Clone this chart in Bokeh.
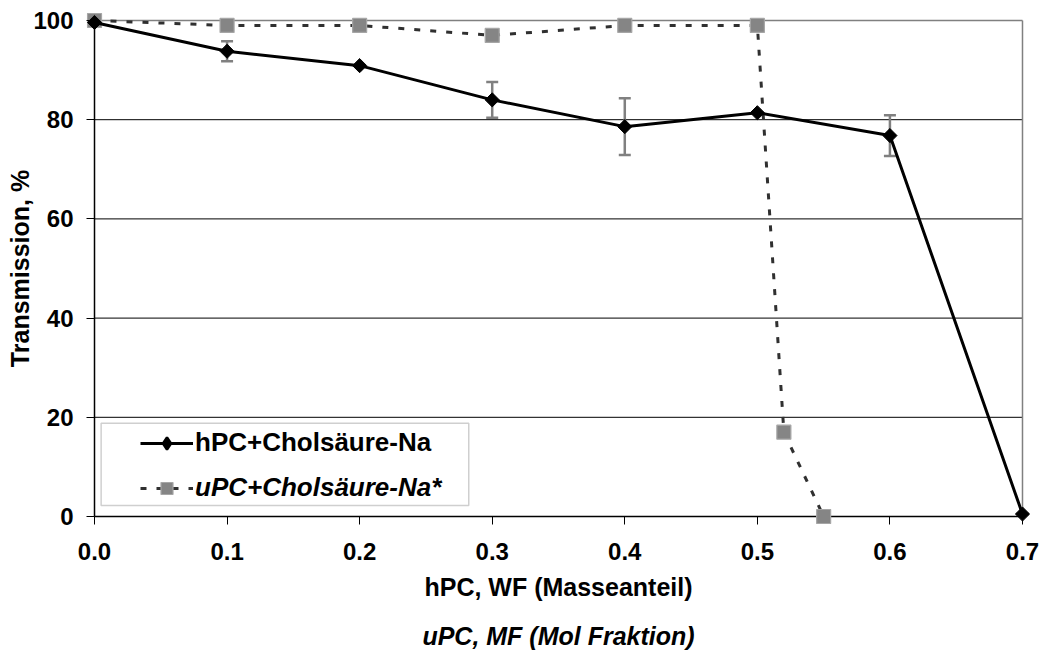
from bokeh.plotting import figure
from bokeh.models import (Range1d, FixedTicker, LinearAxis, Whisker, TeeHead,
                          ColumnDataSource, Legend, LegendItem, BoxAnnotation)
from bokeh.embed import file_html
from bokeh.resources import INLINE
import numpy as np

# ---------------- data ----------------
h_x = [0.0, 0.1, 0.2, 0.3, 0.4, 0.5, 0.6, 0.7]
h_y = [99.6, 93.8, 90.9, 84.0, 78.6, 81.4, 76.8, 0.5]
h_err = [0.0, 2.0, 0.0, 3.6, 5.7, 0.0, 4.1, 0.0]

u_x = [0.0, 0.1, 0.2, 0.3, 0.4, 0.5, 0.52, 0.55]
u_y = [100, 99, 99, 97, 99, 99, 17, 0]

x_ticks = [0.0, 0.1, 0.2, 0.3, 0.4, 0.5, 0.6, 0.7]
x_tick_labels = ["0.0", "0.1", "0.2", "0.3", "0.4", "0.5", "0.6", "0.7"]
y_ticks = [0, 20, 40, 60, 80, 100]
y_tick_labels = ["0", "20", "40", "60", "80", "100"]
y_grid = [20, 40, 60, 80]

series_names = ["hPC+Cholsäure-Na", "uPC+Cholsäure-Na*"]
x_title = "hPC, WF (Masseanteil)"
x_title2 = "uPC, MF (Mol Fraktion)"
y_title = "Transmission, %"

XMIN, XMAX = 0.0, 0.7
YMIN, YMAX = 0.0, 100.0

# ---------------- layout ----------------
FONT = "Liberation Sans"
PAD_X = 8 / 1325.0
PAD_Y = 8 / 4.96

p = figure(width=1045, height=657, output_backend="svg", toolbar_location=None,
           x_range=Range1d(XMIN - PAD_X, XMAX + PAD_X),
           y_range=Range1d(YMIN - PAD_Y, YMAX + PAD_Y),
           min_border_left=86, min_border_right=15, min_border_top=12,
           min_border_bottom=133, x_axis_type=None, y_axis_type=None)
p.outline_line_color = None
p.background_fill_color = "white"
p.border_fill_color = "white"

# gridlines
p.segment(x0=[XMIN] * len(y_grid), x1=[XMAX] * len(y_grid), y0=y_grid, y1=y_grid,
          line_color="#000000", line_width=1, level="underlay")
# top and right border (gray)
p.segment(x0=[XMIN, XMAX], x1=[XMAX, XMAX], y0=[YMAX, YMIN], y1=[YMAX, YMAX],
          line_color="#808080", line_width=1.5, level="underlay")
# axis lines (black)
p.segment(x0=[XMIN, XMIN], x1=[XMIN, XMAX], y0=[YMIN, YMIN], y1=[YMAX, YMIN],
          line_color="#000000", line_width=1.5, level="underlay")

# axes
xaxis = LinearAxis(ticker=FixedTicker(ticks=x_ticks),
                   major_label_overrides=dict(zip(x_ticks, x_tick_labels)))
xaxis.axis_line_color = None
xaxis.major_tick_in = 8
xaxis.major_tick_out = 0
xaxis.major_tick_line_color = "black"
xaxis.minor_tick_line_color = None
xaxis.major_label_standoff = 18
xaxis.major_label_text_font = FONT
xaxis.major_label_text_font_style = "bold"
xaxis.major_label_text_font_size = "24px"
xaxis.major_label_text_color = "black"
xaxis.axis_label = x_title
xaxis.axis_label_text_font = FONT
xaxis.axis_label_text_font_style = "bold"
xaxis.axis_label_text_font_size = "25px"
xaxis.axis_label_text_color = "black"
xaxis.axis_label_standoff = 10
p.add_layout(xaxis, "below")

xaxis2 = LinearAxis(ticker=FixedTicker(ticks=[]))
xaxis2.axis_line_color = None
xaxis2.major_tick_in = 0
xaxis2.major_tick_out = 0
xaxis2.minor_tick_line_color = None
xaxis2.major_label_standoff = 0
xaxis2.axis_label = x_title2
xaxis2.axis_label_text_font = FONT
xaxis2.axis_label_text_font_style = "bold italic"
xaxis2.axis_label_text_font_size = "25px"
xaxis2.axis_label_text_color = "black"
xaxis2.axis_label_standoff = 18
p.add_layout(xaxis2, "below")

yaxis = LinearAxis(ticker=FixedTicker(ticks=y_ticks),
                   major_label_overrides=dict(zip(y_ticks, y_tick_labels)))
yaxis.axis_line_color = None
yaxis.major_tick_in = 8
yaxis.major_tick_out = 0
yaxis.major_tick_line_color = "black"
yaxis.minor_tick_line_color = None
yaxis.major_label_standoff = 13
yaxis.major_label_text_font = FONT
yaxis.major_label_text_font_style = "bold"
yaxis.major_label_text_font_size = "24px"
yaxis.major_label_text_color = "black"
yaxis.axis_label = y_title
yaxis.axis_label_text_font = FONT
yaxis.axis_label_text_font_style = "bold"
yaxis.axis_label_text_font_size = "25px"
yaxis.axis_label_text_color = "black"
yaxis.axis_label_standoff = -4
p.add_layout(yaxis, "left")

# error bars
err_src = ColumnDataSource(dict(x=h_x, upper=[y + e for y, e in zip(h_y, h_err)],
                                lower=[y - e for y, e in zip(h_y, h_err)]))
whisk = Whisker(source=err_src, base="x", upper="upper", lower="lower",
                line_color="#808080", line_width=2.5, level="underlay",
                upper_head=TeeHead(size=12, line_color="#808080", line_width=2.5),
                lower_head=TeeHead(size=12, line_color="#808080", line_width=2.5))
p.add_layout(whisk)

# series
u_line = p.line(u_x, u_y, line_color="#303030", line_width=3, line_dash="6 10")
u_mark = p.scatter(u_x, u_y, marker="square", size=14, fill_color="#858585",
                   line_color="#a6a6a6", line_width=1.2)
h_line = p.line(h_x, h_y, line_color="black", line_width=3)
h_mark = p.scatter(h_x, h_y, marker="square", size=10, angle=np.pi / 4,
                   fill_color="black", line_color="black", line_width=1)
# legend-only diamond glyph (NaN point, used only for the legend swatch)
h_leg = p.scatter(x=[np.nan], y=[np.nan], marker="diamond", fill_color="black",
                  line_color="black", line_width=2.5)

# legend frame
LEG_BOX = dict(left=0.005, right=0.2823, top=18.8, bottom=2.2)
p.add_layout(BoxAnnotation(**LEG_BOX, fill_color="white", fill_alpha=1,
                           line_color="#606060", line_width=1.5))

leg1 = Legend(items=[LegendItem(label=series_names[0], renderers=[h_line, h_leg])],
              location=(54, 66))
leg2 = Legend(items=[LegendItem(label=series_names[1], renderers=[u_line, u_mark])],
              location=(54, 21))
for lg, style in ((leg1, "bold"), (leg2, "bold italic")):
    lg.padding = 0
    lg.margin = 0
    lg.border_line_color = None
    lg.background_fill_alpha = 0
    lg.glyph_width = 53
    lg.glyph_height = 30
    lg.label_height = 30
    lg.label_standoff = 2
    lg.label_text_font = FONT
    lg.label_text_font_style = style
    lg.label_text_font_size = "26px"
    lg.label_text_color = "black"
    p.add_layout(lg)

open("out.html", "w").write(file_html(p, INLINE))
